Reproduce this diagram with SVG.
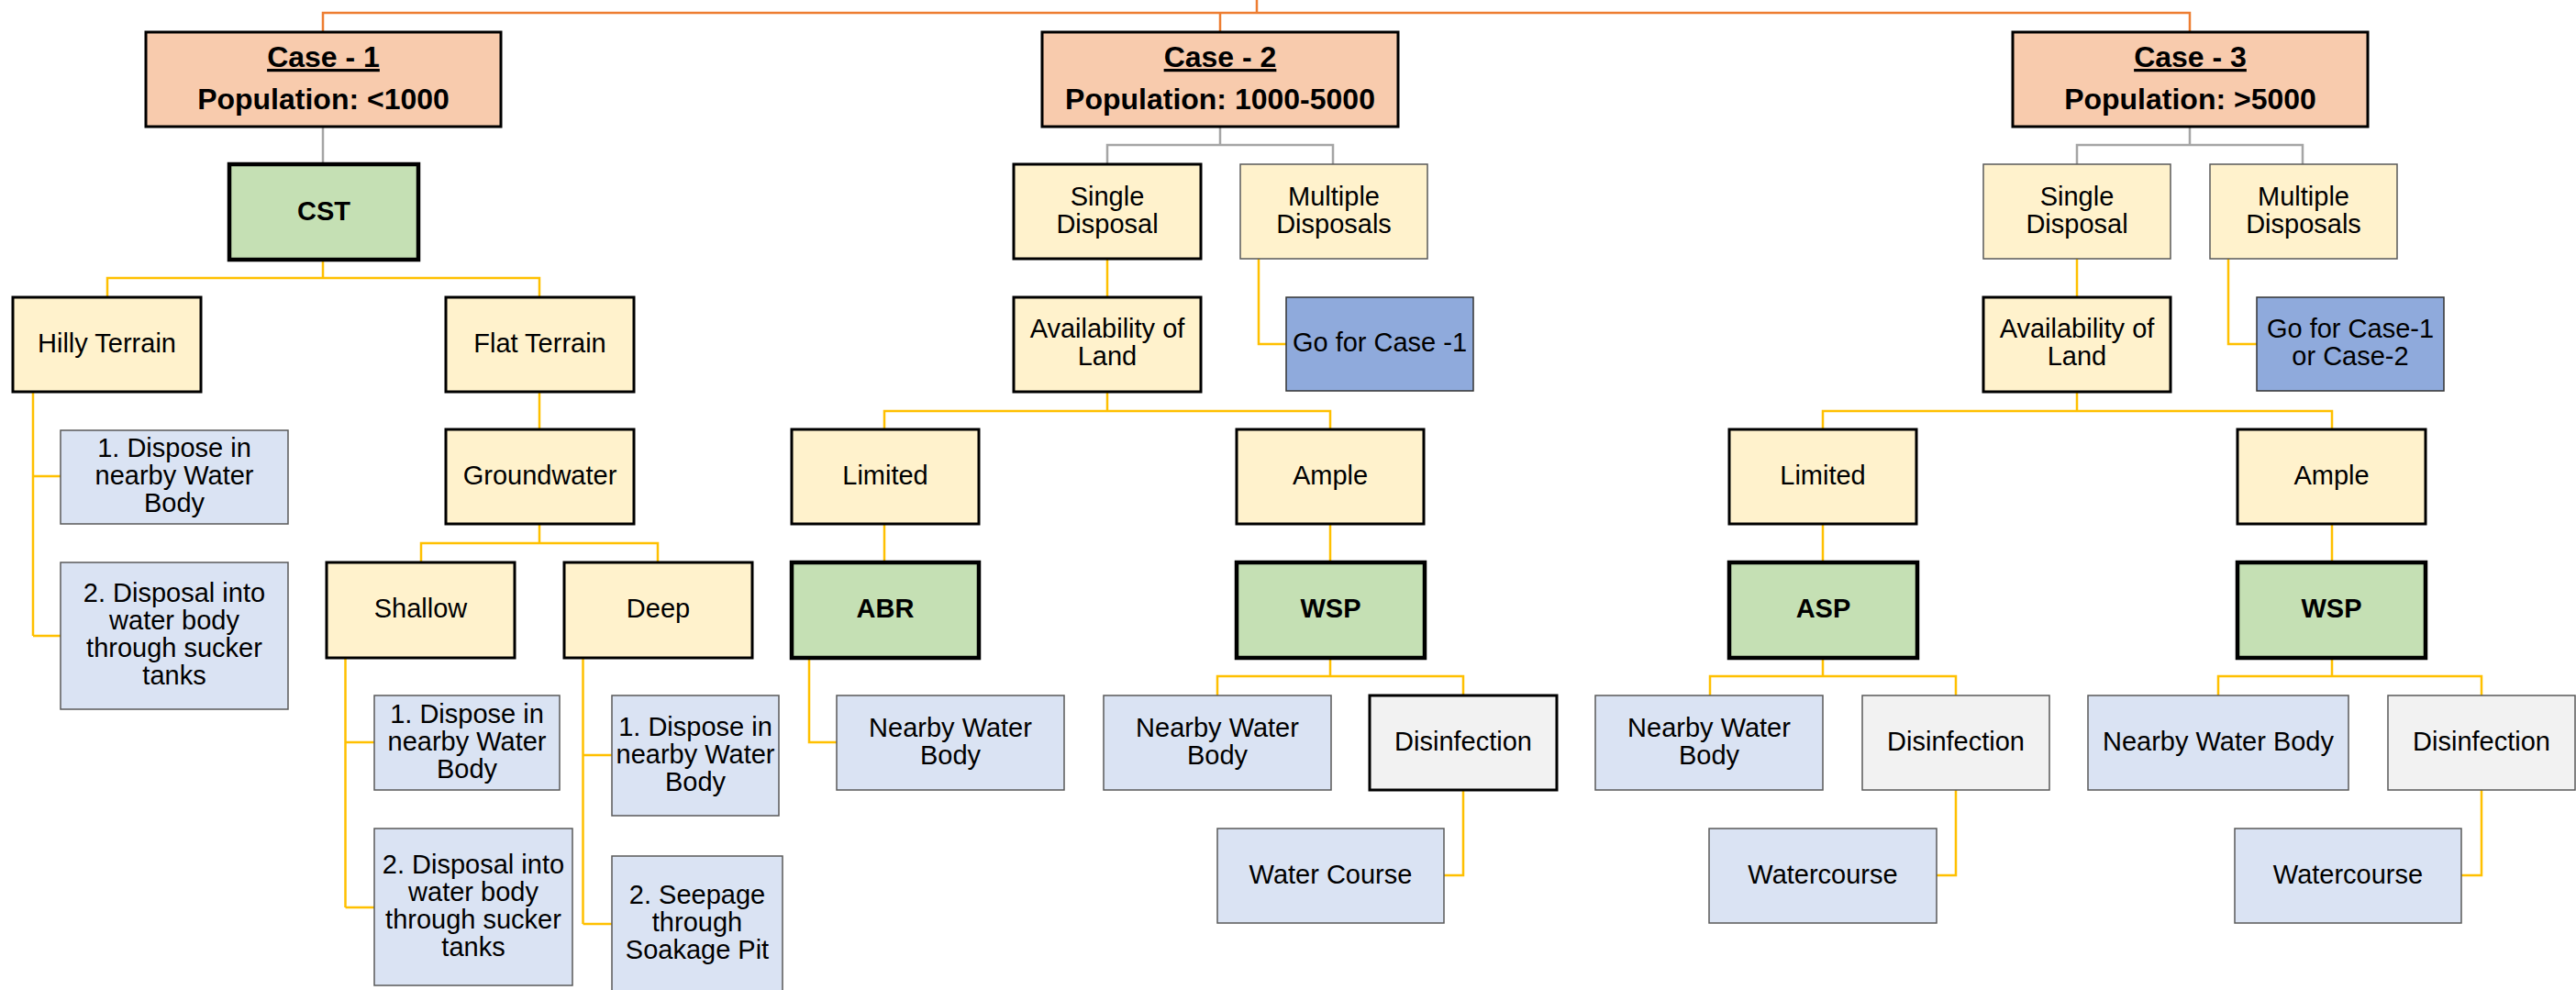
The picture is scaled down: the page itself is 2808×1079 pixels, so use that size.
<svg xmlns="http://www.w3.org/2000/svg" width="2808" height="1079" viewBox="0 0 2808 1079">
  <defs>
    <style>
      .case { fill: #F8CBAD; stroke: #000; stroke-width: 3; }
      .tech { fill: #C5E0B4; stroke: #000; stroke-width: 4.5; }
      .opt { fill: #FFF2CC; stroke: #000; stroke-width: 3; }
      .opt-thin { fill: #FFF2CC; stroke: #595959; stroke-width: 1.5; }
      .out { fill: #DAE3F3; stroke: #595959; stroke-width: 1.5; }
      .dis { fill: #F2F2F2; stroke: #000; stroke-width: 3; }
      .dis-thin { fill: #F2F2F2; stroke: #595959; stroke-width: 1.5; }
      .go { fill: #8FAADC; stroke: #333; stroke-width: 1.5; }
      text { font-family: "Liberation Sans", Arial, sans-serif; font-size: 29px; text-anchor: middle; fill: #000; }
      .b { font-weight: bold; }
      .h { font-size: 32px; font-weight: bold; }
      .u { text-decoration: underline; }
      .c-or { stroke: #ED7D31; stroke-width: 2.5; fill: none; }
      .c-gr { stroke: #A5A5A5; stroke-width: 2.5; fill: none; }
      .c-ye { stroke: #FFC000; stroke-width: 2.5; fill: none; }
    </style>
  </defs>
  <rect width="2808" height="1079" fill="#fff"/>

  <g id="connectors">
    <!-- root to cases -->
    <path class="c-or" d="M1370 0 V14 M352 35 V14 H2387 V35 M1330 14 V35"/>
    <!-- case to first level -->
    <path class="c-gr" d="M352 138 V179"/>
    <path class="c-gr" d="M1330 138 V158 M1207 179 V158 H1453 V179"/>
    <path class="c-gr" d="M2387 138 V158 M2264 179 V158 H2510 V179"/>
    <!-- case 1 -->
    <path class="c-ye" d="M352 283 V303 M117 324 V303 H588 V324"/>
    <path class="c-ye" d="M36 427 V693 M36 519 H66 M36 693 H66"/>
    <path class="c-ye" d="M588 427 V469"/>
    <path class="c-ye" d="M588 571 V592 M459 613 V592 H717 V613"/>
    <path class="c-ye" d="M376.5 717 V989 M376.5 809 H408 M376.5 989 H408"/>
    <path class="c-ye" d="M635.5 717 V1007 M635.5 823 H667 M635.5 1007 H667"/>
    <!-- case 2 -->
    <path class="c-ye" d="M1207 282 V324"/>
    <path class="c-ye" d="M1372 282 V375 H1402"/>
    <path class="c-ye" d="M1207 427 V448 M964 468 V448 H1450 V468"/>
    <path class="c-ye" d="M964 571 V613"/>
    <path class="c-ye" d="M882 717 V809 H912"/>
    <path class="c-ye" d="M1450 571 V613"/>
    <path class="c-ye" d="M1450 717 V737 M1327 758 V737 H1595 V758"/>
    <path class="c-ye" d="M1595 861 V954 H1574"/>
    <!-- case 3 -->
    <path class="c-ye" d="M2264 282 V324"/>
    <path class="c-ye" d="M2429 282 V375 H2460"/>
    <path class="c-ye" d="M2264 427 V448 M1987 468 V448 H2542 V468"/>
    <path class="c-ye" d="M1987 571 V613"/>
    <path class="c-ye" d="M1987 717 V737 M1864 758 V737 H2132 V758"/>
    <path class="c-ye" d="M2132 861 V954 H2111"/>
    <path class="c-ye" d="M2542 571 V613"/>
    <path class="c-ye" d="M2542 717 V737 M2418 758 V737 H2705 V758"/>
    <path class="c-ye" d="M2705 861 V954 H2683"/>
  </g>

  <!-- Case 1 branch -->
  <g id="case1">
    <rect class="case" x="159" y="35" width="387" height="103"/>
    <text class="h u" x="352.5" y="73">Case - 1</text>
    <text class="h" x="352.5" y="119">Population: &lt;1000</text>
  </g>
  <g id="cst">
    <rect class="tech" x="250" y="179" width="206" height="104"/>
    <text class="b" x="353" y="240">CST</text>
  </g>
  <g id="hilly">
    <rect class="opt" x="14" y="324" width="205" height="103"/>
    <text x="116.5" y="384">Hilly Terrain</text>
  </g>
  <g id="flat">
    <rect class="opt" x="486" y="324" width="205" height="103"/>
    <text x="588.5" y="384">Flat Terrain</text>
  </g>
  <g id="hilly-dispose">
    <rect class="out" x="66" y="469" width="248" height="102"/>
    <text x="190" y="498">1. Dispose in</text>
    <text x="190" y="528">nearby Water</text>
    <text x="190" y="558">Body</text>
  </g>
  <g id="hilly-sucker">
    <rect class="out" x="66" y="613" width="248" height="160"/>
    <text x="190" y="656">2. Disposal into</text>
    <text x="190" y="686">water body</text>
    <text x="190" y="716">through sucker</text>
    <text x="190" y="746">tanks</text>
  </g>
  <g id="groundwater">
    <rect class="opt" x="486" y="468" width="205" height="103"/>
    <text x="588.5" y="528">Groundwater</text>
  </g>
  <g id="shallow">
    <rect class="opt" x="356" y="613" width="205" height="104"/>
    <text x="458.5" y="673">Shallow</text>
  </g>
  <g id="deep">
    <rect class="opt" x="615" y="613" width="205" height="104"/>
    <text x="717.5" y="673">Deep</text>
  </g>
  <g id="shallow-dispose">
    <rect class="out" x="408" y="758" width="202" height="103"/>
    <text x="509" y="788">1. Dispose in</text>
    <text x="509" y="818">nearby Water</text>
    <text x="509" y="848">Body</text>
  </g>
  <g id="shallow-sucker">
    <rect class="out" x="408" y="903" width="216" height="171"/>
    <text x="516" y="952">2. Disposal into</text>
    <text x="516" y="982">water body</text>
    <text x="516" y="1012">through sucker</text>
    <text x="516" y="1042">tanks</text>
  </g>
  <g id="deep-dispose">
    <rect class="out" x="667" y="758" width="182" height="131"/>
    <text x="758" y="802">1. Dispose in</text>
    <text x="758" y="832">nearby Water</text>
    <text x="758" y="862">Body</text>
  </g>
  <g id="deep-seepage">
    <rect class="out" x="667" y="933" width="186" height="160"/>
    <text x="760" y="985">2. Seepage</text>
    <text x="760" y="1015">through</text>
    <text x="760" y="1045">Soakage Pit</text>
  </g>

  <!-- Case 2 branch -->
  <g id="case2">
    <rect class="case" x="1136" y="35" width="388" height="103"/>
    <text class="h u" x="1330" y="73">Case - 2</text>
    <text class="h" x="1330" y="119">Population: 1000-5000</text>
  </g>
  <g id="single2">
    <rect class="opt" x="1105" y="179" width="204" height="103"/>
    <text x="1207" y="224">Single</text>
    <text x="1207" y="254">Disposal</text>
  </g>
  <g id="multiple2">
    <rect class="opt-thin" x="1352" y="179" width="204" height="103"/>
    <text x="1454" y="224">Multiple</text>
    <text x="1454" y="254">Disposals</text>
  </g>
  <g id="land2">
    <rect class="opt" x="1105" y="324" width="204" height="103"/>
    <text x="1207" y="368">Availability of</text>
    <text x="1207" y="398">Land</text>
  </g>
  <g id="goto1">
    <rect class="go" x="1402" y="324" width="204" height="102"/>
    <text x="1504" y="383">Go for Case -1</text>
  </g>
  <g id="limited2">
    <rect class="opt" x="863" y="468" width="204" height="103"/>
    <text x="965" y="528">Limited</text>
  </g>
  <g id="ample2">
    <rect class="opt" x="1348" y="468" width="204" height="103"/>
    <text x="1450" y="528">Ample</text>
  </g>
  <g id="abr">
    <rect class="tech" x="863" y="613" width="204" height="104"/>
    <text class="b" x="965" y="673">ABR</text>
  </g>
  <g id="wsp2">
    <rect class="tech" x="1348" y="613" width="205" height="104"/>
    <text class="b" x="1450.5" y="673">WSP</text>
  </g>
  <g id="abr-nearby">
    <rect class="out" x="912" y="758" width="248" height="103"/>
    <text x="1036" y="803">Nearby Water</text>
    <text x="1036" y="833">Body</text>
  </g>
  <g id="wsp2-nearby">
    <rect class="out" x="1203" y="758" width="248" height="103"/>
    <text x="1327" y="803">Nearby Water</text>
    <text x="1327" y="833">Body</text>
  </g>
  <g id="wsp2-disinfection">
    <rect class="dis" x="1493" y="758" width="204" height="103"/>
    <text x="1595" y="818">Disinfection</text>
  </g>
  <g id="wsp2-watercourse">
    <rect class="out" x="1327" y="903" width="247" height="103"/>
    <text x="1450.5" y="963">Water Course</text>
  </g>

  <!-- Case 3 branch -->
  <g id="case3">
    <rect class="case" x="2194" y="35" width="387" height="103"/>
    <text class="h u" x="2387.5" y="73">Case - 3</text>
    <text class="h" x="2387.5" y="119">Population: &gt;5000</text>
  </g>
  <g id="single3">
    <rect class="opt-thin" x="2162" y="179" width="204" height="103"/>
    <text x="2264" y="224">Single</text>
    <text x="2264" y="254">Disposal</text>
  </g>
  <g id="multiple3">
    <rect class="opt-thin" x="2409" y="179" width="204" height="103"/>
    <text x="2511" y="224">Multiple</text>
    <text x="2511" y="254">Disposals</text>
  </g>
  <g id="land3">
    <rect class="opt" x="2162" y="324" width="204" height="103"/>
    <text x="2264" y="368">Availability of</text>
    <text x="2264" y="398">Land</text>
  </g>
  <g id="goto12">
    <rect class="go" x="2460" y="324" width="204" height="102"/>
    <text x="2562" y="368">Go for Case-1</text>
    <text x="2562" y="398">or Case-2</text>
  </g>
  <g id="limited3">
    <rect class="opt" x="1885" y="468" width="204" height="103"/>
    <text x="1987" y="528">Limited</text>
  </g>
  <g id="ample3">
    <rect class="opt" x="2439" y="468" width="205" height="103"/>
    <text x="2541.5" y="528">Ample</text>
  </g>
  <g id="asp">
    <rect class="tech" x="1885" y="613" width="205" height="104"/>
    <text class="b" x="1987.5" y="673">ASP</text>
  </g>
  <g id="wsp3">
    <rect class="tech" x="2439" y="613" width="205" height="104"/>
    <text class="b" x="2541.5" y="673">WSP</text>
  </g>
  <g id="asp-nearby">
    <rect class="out" x="1739" y="758" width="248" height="103"/>
    <text x="1863" y="803">Nearby Water</text>
    <text x="1863" y="833">Body</text>
  </g>
  <g id="asp-disinfection">
    <rect class="dis-thin" x="2030" y="758" width="204" height="103"/>
    <text x="2132" y="818">Disinfection</text>
  </g>
  <g id="asp-watercourse">
    <rect class="out" x="1863" y="903" width="248" height="103"/>
    <text x="1987" y="963">Watercourse</text>
  </g>
  <g id="wsp3-nearby">
    <rect class="out" x="2276" y="758" width="284" height="103"/>
    <text x="2418" y="818">Nearby Water Body</text>
  </g>
  <g id="wsp3-disinfection">
    <rect class="dis-thin" x="2603" y="758" width="204" height="103"/>
    <text x="2705" y="818">Disinfection</text>
  </g>
  <g id="wsp3-watercourse">
    <rect class="out" x="2436" y="903" width="247" height="103"/>
    <text x="2559.5" y="963">Watercourse</text>
  </g>
</svg>
